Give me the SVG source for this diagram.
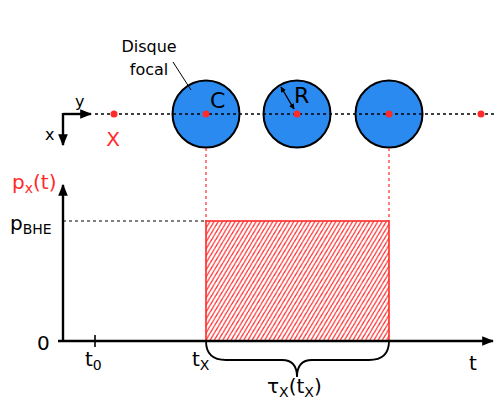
<svg xmlns="http://www.w3.org/2000/svg" width="496" height="410" viewBox="0 0 496 410">
<style>
text{font-family:"DejaVu Sans",sans-serif;fill:#000}
.red{fill:#ff2a2a}
.disk{fill:#2a8af0;stroke:#000;stroke-width:2}
.dot{fill:#ff2a2a}
.ax{stroke:#000;stroke-width:2.4;fill:none}
</style>
<defs>
<marker id="ah" viewBox="0 0 10 10" refX="9" refY="5" markerWidth="5" markerHeight="5" orient="auto-start-reverse"><path d="M0,1 L10,5 L0,9 z" fill="#000"/></marker>
<marker id="ah2" viewBox="0 0 10 10" refX="9" refY="5" markerWidth="4" markerHeight="4" orient="auto-start-reverse"><path d="M0,0 L10,5 L0,10 z" fill="#000"/></marker>
<pattern id="hatch" patternUnits="userSpaceOnUse" width="4.2" height="7" x="206" y="221">
<rect width="4.2" height="7" fill="#fff"/>
<path d="M0,7 L4.2,0 M-4.2,7 L0,0 M4.2,7 L8.4,0" stroke="#ff3a3a" stroke-width="1.3" fill="none"/>
</pattern>
</defs>
<g id="frame">
<path d="M63,114 H91" class="ax" stroke-width="2" marker-end="url(#ah)"/>
<path d="M63,113 V145" class="ax" stroke-width="2" marker-end="url(#ah)"/>
<text x="75" y="107" font-size="16">y</text>
<text x="45" y="140" font-size="16">x</text>
</g>
<g id="disk1">
<circle cx="206" cy="114" r="33.5" class="disk"/>
</g>
<g id="disk2">
<circle cx="297" cy="114" r="33.5" class="disk"/>
</g>
<g id="disk3">
<circle cx="389" cy="114" r="33.5" class="disk"/>
</g>
<g id="connectors">
<line x1="95" y1="114" x2="496" y2="114" stroke="#000" stroke-width="1.6" stroke-dasharray="3,3"/>
<line x1="206" y1="148" x2="206" y2="221" stroke="#ff2a2a" stroke-width="1.2" stroke-dasharray="3,3"/>
<line x1="389" y1="148" x2="389" y2="221" stroke="#ff2a2a" stroke-width="1.2" stroke-dasharray="3,3"/>
<line x1="63" y1="221" x2="206" y2="221" stroke="#000" stroke-width="1.2" stroke-dasharray="3,3"/>
<line x1="173" y1="62" x2="191" y2="90" stroke="#000" stroke-width="1"/>
<line x1="281" y1="87" x2="294" y2="109" stroke="#000" stroke-width="1.4" marker-start="url(#ah2)" marker-end="url(#ah2)"/>
</g>
<g id="pointX">
<circle cx="114" cy="114" r="3.5" class="dot"/>
<text x="113" y="146" font-size="20" text-anchor="middle" class="red">X</text>
</g>
<g id="center1">
<circle cx="206" cy="114" r="3.5" class="dot"/>
<text x="210" y="108" font-size="22">C</text>
</g>
<g id="center2">
<circle cx="297" cy="114" r="3.5" class="dot"/>
<text x="294" y="103" font-size="22">R</text>
</g>
<g id="center3">
<circle cx="389" cy="114" r="3.5" class="dot"/>
</g>
<g id="pointEnd">
<circle cx="481" cy="114" r="3.5" class="dot"/>
</g>
<g id="label-disque">
<text x="149" y="52" font-size="16" text-anchor="middle">Disque</text>
<text x="149" y="75" font-size="16" text-anchor="middle">focal</text>
</g>
<g id="plot">
<rect x="206" y="221" width="183" height="120" fill="url(#hatch)" stroke="#ff2a2a" stroke-width="1.6"/>
<path d="M63,341 V185" class="ax" marker-end="url(#ah)"/>
<path d="M58,341 H493" class="ax" marker-end="url(#ah)"/>
<line x1="95" y1="335" x2="95" y2="347" stroke="#000" stroke-width="1.6"/>
<path d="M206,341 Q206,360 226,360 H282 Q297,360 297,377 Q297,360 312,360 H369 Q389,360 389,341" fill="none" stroke="#000" stroke-width="1.8"/>
<text x="12" y="189" font-size="20" class="red">p<tspan font-size="14" dy="4">x</tspan><tspan dy="-4">(t)</tspan></text>
<text x="10" y="230" font-size="20">p<tspan font-size="14" dy="4">BHE</tspan></text>
<text x="37" y="350" font-size="20">0</text>
<text x="85" y="366" font-size="20">t<tspan font-size="14" dy="4">0</tspan></text>
<text x="192" y="366" font-size="20">t<tspan font-size="14" dy="4">X</tspan></text>
<text x="469" y="370" font-size="20">t</text>
<text x="267" y="393" font-size="20">τ<tspan font-size="14" dy="4">X</tspan><tspan dy="-4">(t</tspan><tspan font-size="14" dy="4">X</tspan><tspan dy="-4">)</tspan></text>
</g>
</svg>
